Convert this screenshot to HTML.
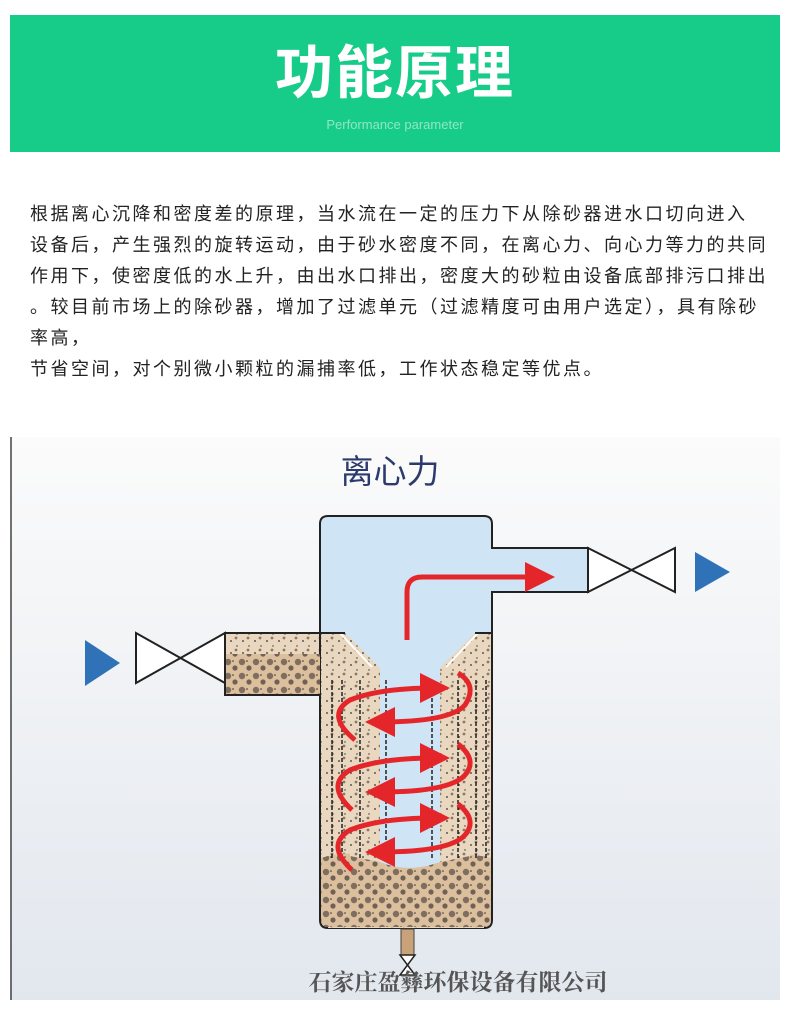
<!DOCTYPE html>
<html><head><meta charset="utf-8"><style>
body{margin:0;width:790px;height:1010px;background:#fff;position:relative;overflow:hidden;font-family:"Liberation Sans","Noto Sans CJK SC",sans-serif}
.hdr{position:absolute;left:10px;top:15px;width:770px;height:137px;background:#17cc89}
.t{position:absolute;left:0;width:770px;text-align:center;color:#fff}
.p{position:absolute;left:30px;font-size:18px;letter-spacing:2.5px;color:#222;white-space:nowrap;line-height:20px}
</style></head><body>
<div class="hdr">
<div class="t" style="top:24px;font-size:58px;font-weight:bold;letter-spacing:2px;line-height:70px">功能原理</div>
<div class="t" style="top:102px;font-size:13px;color:#8fe6c4;line-height:16px">Performance parameter</div>
</div>
<div class="p" style="top:204px">根据离心沉降和密度差的原理，当水流在一定的压力下从除砂器进水口切向进入</div>
<div class="p" style="top:235px">设备后，产生强烈的旋转运动，由于砂水密度不同，在离心力、向心力等力的共同</div>
<div class="p" style="top:266px">作用下，使密度低的水上升，由出水口排出，密度大的砂粒由设备底部排污口排出</div>
<div class="p" style="top:297px">。较目前市场上的除砂器，增加了过滤单元（过滤精度可由用户选定），具有除砂</div>
<div class="p" style="top:328px">率高，</div>
<div class="p" style="top:359px">节省空间，对个别微小颗粒的漏捕率低，工作状态稳定等优点。</div>
<svg style="position:absolute;left:0;top:430px" width="790" height="580" viewBox="0 430 790 580">
<defs>
<linearGradient id="bg" x1="0" y1="0" x2="0" y2="1"><stop offset="0" stop-color="#fbfbfb"/><stop offset="1" stop-color="#e2e7ee"/></linearGradient>
<pattern id="dots" width="14" height="14" patternUnits="userSpaceOnUse"><rect width="14" height="14" fill="#dcbf9c"/><circle cx="4" cy="4" r="3.2" fill="#7e6e60"/><circle cx="11" cy="10" r="2.6" fill="#6f6156"/><circle cx="9" cy="3" r="0.8" fill="#333"/></pattern>
<pattern id="dots2" width="12" height="12" patternUnits="userSpaceOnUse"><rect width="12" height="12" fill="#ead7bf"/><circle cx="3" cy="5" r="0.9" fill="#333"/><circle cx="9" cy="10" r="0.7" fill="#333"/><circle cx="8" cy="2" r="1.4" fill="#8a7866"/></pattern>
<marker id="ah" markerWidth="6" markerHeight="6" refX="3" refY="3" orient="auto" markerUnits="strokeWidth"><path d="M0,0 L6,3 L0,6 Z" fill="#e4262b"/></marker>
</defs>
<rect x="10" y="437" width="770" height="563" fill="url(#bg)"/>
<line x1="11" y1="437" x2="11" y2="1000" stroke="#444" stroke-width="1.5"/>
<text x="390" y="483" font-size="33" fill="#2c3a6e" text-anchor="middle" font-family="Noto Sans CJK SC,sans-serif">离心力</text>
<path d="M320,640 V524 Q320,516 328,516 H484 Q492,516 492,524 V548 H588 V592 H492 V640 Z" fill="#cfe4f4" stroke="#222" stroke-width="2"/>
<path d="M320,633 V920 Q320,928 328,928 H484 Q492,928 492,920 V633" fill="url(#dots2)" stroke="#222" stroke-width="2"/>
<rect x="328" y="660" width="156" height="268" fill="url(#dots2)"/>
<path d="M321,858 Q360,846 408,866 Q450,848 491,858 V920 Q491,927 484,927 H328 Q321,927 321,920 Z" fill="url(#dots)"/>
<path d="M345,633 L380,668 V862 Q408,874 440,862 V668 L475,633 Z" fill="#cfe4f4"/>
<path d="M345,633 L380,668 V862 L350,856 V680 L325,650 Z" fill="url(#dots2)"/>
<path d="M475,633 L440,668 V862 L470,856 V680 L491,650 Z" fill="url(#dots2)"/>
<line x1="340" y1="633" x2="372" y2="667" stroke="#fff" stroke-width="2"/>
<line x1="478" y1="633" x2="446" y2="667" stroke="#fff" stroke-width="2"/>
<g stroke="#222" stroke-width="1.5" stroke-dasharray="4 2">
<line x1="332" y1="680" x2="332" y2="858"/><line x1="342" y1="680" x2="342" y2="858"/><line x1="360" y1="680" x2="360" y2="858"/>
<line x1="386" y1="680" x2="386" y2="858"/><line x1="432" y1="680" x2="432" y2="858"/><line x1="458" y1="680" x2="458" y2="858"/><line x1="476" y1="680" x2="476" y2="858"/><line x1="486" y1="680" x2="486" y2="858"/>
</g>
<path d="M225,633 H320 V695 H225 Z" fill="url(#dots2)" stroke="#222" stroke-width="2"/>
<rect x="226" y="654" width="94" height="40" fill="url(#dots)"/>
<line x1="320" y1="633" x2="345" y2="633" stroke="#222" stroke-width="2"/>
<line x1="475" y1="633" x2="492" y2="633" stroke="#222" stroke-width="2"/>
<path d="M136,633 L225,683 V633 L136,683 Z" fill="#fff" stroke="#222" stroke-width="2"/>
<path d="M588,548 L675,592 V548 L588,592 Z" fill="#fff" stroke="#222" stroke-width="2"/>
<path d="M85,640 L120,663 L85,686 Z" fill="#2f72b8"/>
<path d="M695,552 L730,572 L695,592 Z" fill="#2f72b8"/>
<rect x="401" y="929" width="13" height="26" fill="#c9a27a" stroke="#444"/>
<path d="M400,955 L415,975 H400 L415,955 Z" fill="#fff" stroke="#222" stroke-width="1.5"/>
<path d="M407,640 V592 Q407,577 422,577 H540" fill="none" stroke="#e4262b" stroke-width="5" marker-end="url(#ah)"/>
<g fill="none" stroke="#e4262b" stroke-width="5">
<path d="M355,740 Q325,715 350,700 Q380,688 435,688" marker-end="url(#ah)"/>
<path d="M458,673 Q478,685 465,705 Q450,722 380,722" marker-end="url(#ah)"/>
<path d="M352,810 Q325,785 350,770 Q380,758 435,758" marker-end="url(#ah)"/>
<path d="M458,744 Q478,760 465,775 Q450,792 380,792" marker-end="url(#ah)"/>
<path d="M352,870 Q325,845 350,830 Q380,818 435,818" marker-end="url(#ah)"/>
<path d="M458,804 Q478,820 465,835 Q450,852 380,852" marker-end="url(#ah)"/>
</g>
<text x="458" y="990" font-size="23" font-weight="bold" fill="#555" text-anchor="middle" font-family="Noto Serif CJK SC,serif">石家庄盈彝环保设备有限公司</text>
</svg>
</body></html>
